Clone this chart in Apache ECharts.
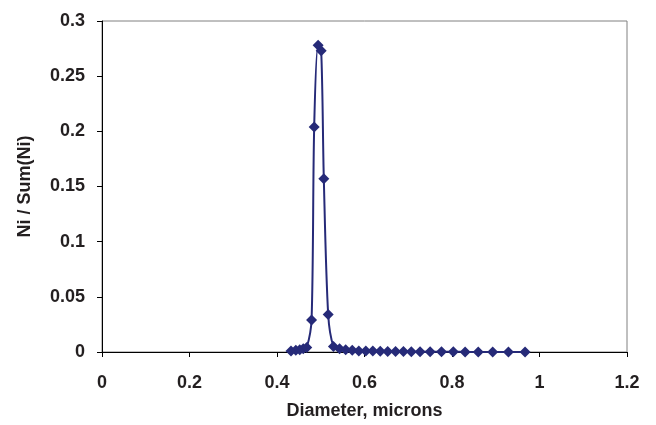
<!DOCTYPE html>
<html>
<head>
<meta charset="utf-8">
<script src="https://cdn.jsdelivr.net/npm/echarts@6/dist/echarts.min.js"></script>
<style>
  html, body { margin: 0; padding: 0; background: #fff; }
  #chart { width: 656px; height: 425px; }
</style>
</head>
<body>
<div id="chart"></div>
<script>
// diameters (microns) and normalised counts
const diameters = [
  0.432, 0.443, 0.452, 0.460, 0.468, 0.479, 0.485, 0.494, 0.501, 0.507,
  0.517, 0.529, 0.543, 0.557, 0.572, 0.587, 0.603, 0.619, 0.636, 0.653,
  0.671, 0.689, 0.707, 0.727, 0.750, 0.776, 0.803, 0.830, 0.860, 0.893,
  0.929, 0.967
];
const fractions = [
  0.001, 0.0015, 0.002, 0.003, 0.004, 0.029, 0.204, 0.278, 0.273, 0.157,
  0.034, 0.005, 0.003, 0.002, 0.0015, 0.001, 0.001, 0.0008, 0.0006, 0.0005,
  0.0004, 0.0004, 0.0003, 0.0003, 0.0002, 0.0002, 0.0002, 0.0001, 0.0001, 0.0001,
  0.0001, 0.0001
];
const xTicks = [0, 0.2, 0.4, 0.6, 0.8, 1, 1.2];
const yTicks = [0, 0.05, 0.1, 0.15, 0.2, 0.25, 0.3];

const navy = '#262a78';
const textColor = '#231f20';
const labelFont = { fontFamily: 'Liberation Sans, Arial, sans-serif', fontWeight: 'bold', fontSize: 18, color: textColor };

const chart = echarts.init(document.getElementById('chart'));

chart.setOption({
  animation: false,
  grid: {
    left: 102, right: 29, top: 21, bottom: 73,
    show: true, borderColor: '#808080', borderWidth: 1
  },
  xAxis: {
    type: 'value',
    min: xTicks[0], max: xTicks[xTicks.length - 1], interval: 0.2,
    name: 'Diameter, microns',
    nameLocation: 'middle',
    nameGap: 50,
    nameTextStyle: labelFont,
    axisLine: { show: true, onZero: false, lineStyle: { color: '#000', width: 1 } },
    axisTick: { show: true, length: 5, lineStyle: { color: '#000' } },
    axisLabel: Object.assign({ margin: 22 }, labelFont),
    splitLine: { show: false }
  },
  yAxis: {
    type: 'value',
    min: yTicks[0], max: yTicks[yTicks.length - 1], interval: 0.05,
    name: 'Ni / Sum(Ni)',
    nameLocation: 'middle',
    nameGap: 68,
    nameRotate: 90,
    nameTextStyle: labelFont,
    axisLine: { show: true, lineStyle: { color: '#000', width: 1 } },
    axisTick: { show: true, length: 5, lineStyle: { color: '#000' } },
    axisLabel: Object.assign({ margin: 17 }, labelFont),
    splitLine: { show: false }
  },
  series: [{
    type: 'line',
    data: diameters.map((d, i) => [d, fractions[i]]),
    smooth: 0.3,
    symbol: 'diamond',
    symbolSize: 11,
    lineStyle: { color: navy, width: 2 },
    itemStyle: { color: navy }
  }]
});
</script>
</body>
</html>
